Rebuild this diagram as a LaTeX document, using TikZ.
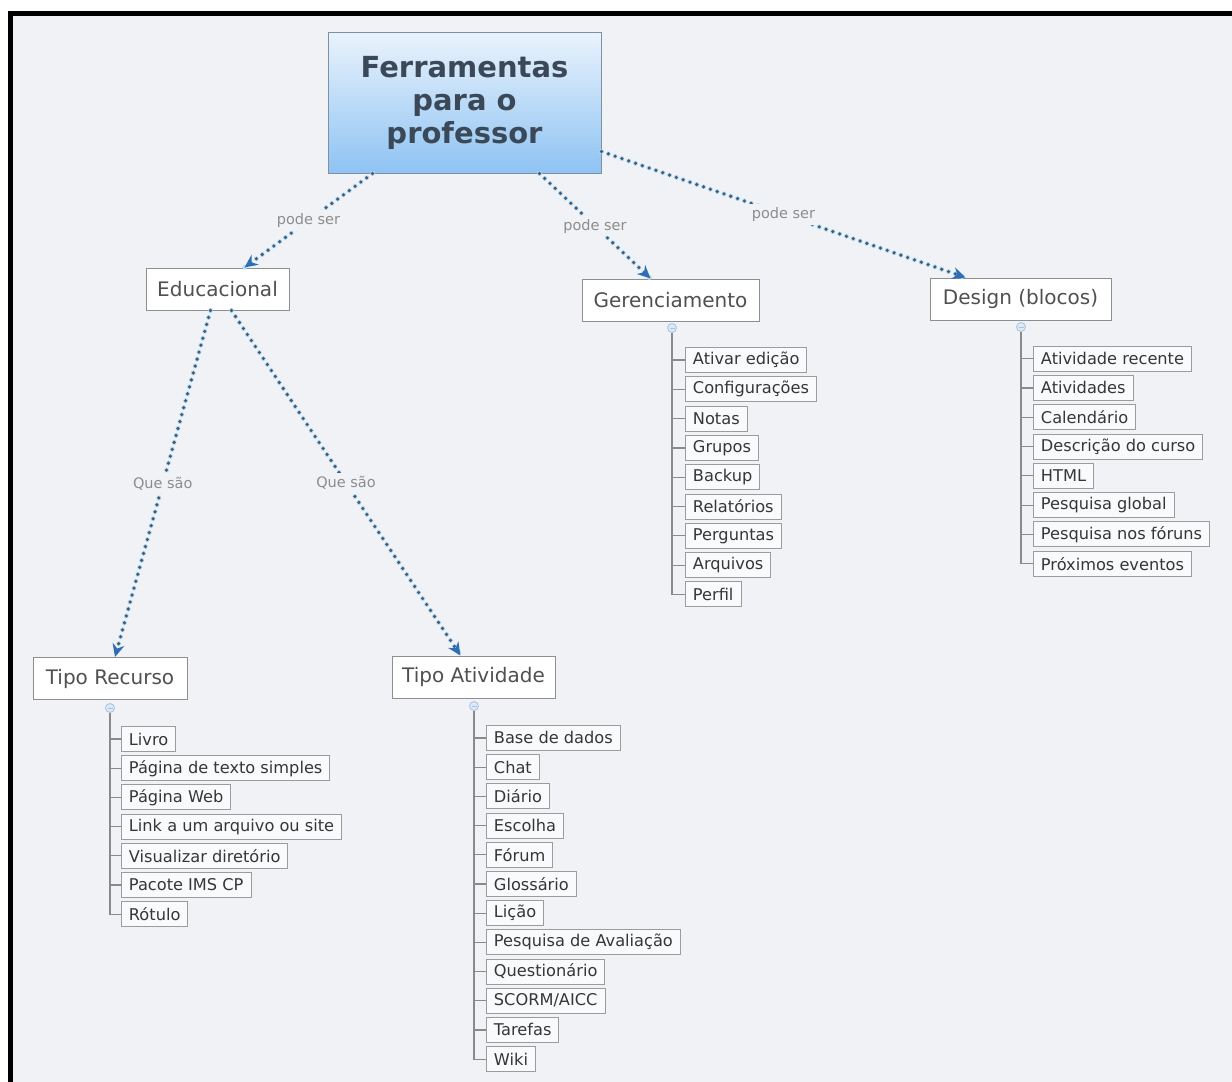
\documentclass[tikz,border=0pt]{standalone}
\usepackage{fontspec}
\setmainfont{DejaVu Sans}
\usetikzlibrary{arrows.meta}
\definecolor{bg}{HTML}{F1F2F6}
\definecolor{rootline}{HTML}{7D90A6}
\definecolor{roottop}{HTML}{EAF3FC}
\definecolor{rootbot}{HTML}{8EC3F3}
\definecolor{roottext}{HTML}{3B4858}
\definecolor{boxline}{HTML}{8E8E8E}
\definecolor{maintext}{HTML}{505050}
\definecolor{itemtext}{HTML}{363636}
\definecolor{itemline}{HTML}{9C9C9C}
\definecolor{treegray}{HTML}{8A8A8A}
\definecolor{dotdark}{HTML}{3E5D7A}
\definecolor{dothalo}{HTML}{B9DDF5}
\definecolor{tipblue}{HTML}{2E6EB6}
\definecolor{lblgray}{HTML}{8C8C8C}
\definecolor{knobfill}{HTML}{DCEAF8}
\definecolor{knobline}{HTML}{A9C3DE}
\begin{document}
\begin{tikzpicture}[x=1pt,y=-1pt,
  rootbox/.style={draw=rootline, line width=1pt, top color=roottop, bottom color=rootbot,
    minimum width=273pt, minimum height=141pt, inner sep=0pt, align=center,
    text=roottext, font=\fontsize{29}{33}\selectfont\bfseries},
  mainbox/.style={draw=boxline, line width=1pt, fill=white, minimum height=42pt,
    inner sep=0pt, text=maintext, font=\fontsize{20}{24}\selectfont},
  itembox/.style={draw=itemline, line width=0.9pt, fill=white!60!bg, minimum height=25pt,
    inner xsep=7.5pt, inner ysep=0pt, anchor=west, text=itemtext,
    font=\fontsize{16.2}{19}\selectfont},
  knob/.style={circle, draw=knobline, fill=knobfill, line width=0.8pt,
    minimum size=9pt, inner sep=0pt},
  treeline/.style={draw=treegray, line width=1.2pt},
  relation/.style={draw=dotdark, line width=3.6pt, line cap=round,
    dash pattern=on 0pt off 7.2pt,
    preaction={draw=dothalo, line width=5pt, line cap=round, dash pattern=on 0pt off 7.2pt, arrows=-},
    -{Stealth[length=13pt,width=12pt,color=tipblue]}},
  lbl/.style={fill=bg, text=lblgray, inner sep=3pt, font=\fontsize{14.5}{16}\selectfont}
]
\useasboundingbox (0,0) rectangle (1232,1082);
% frame and canvas
\fill[white] (0,0) rectangle (1232,1082);
\fill[black] (8,11) rectangle (1232,1082);
\fill[bg] (12.5,15.5) rectangle (1232,1082);

% central concept
\node[rootbox] (root) at (464.5,102.5) {Ferramentas\\para o\\professor};

% main concepts
\node[mainbox, minimum width=143pt] (edu) at (217.5,289) {Educacional};
\node[mainbox, minimum width=177pt] (ger) at (670.5,300) {Gerenciamento};
\node[mainbox, minimum width=181pt] (des) at (1020.5,299) {Design (blocos)};
\node[mainbox, minimum width=154pt] (rec) at (110,678.5) {Tipo Recurso};
\node[mainbox, minimum width=163pt] (ati) at (473.5,677) {Tipo Atividade};

% relations
\draw[relation] ([xshift=-92pt]root.south) -- node[lbl]{pode ser} ([xshift=27pt]edu.north);
\draw[relation] ([xshift=75pt]root.south) -- node[lbl]{pode ser} ([xshift=-20pt]ger.north);
\draw[relation] ([yshift=-49pt]root.east) -- node[lbl]{pode ser} ([xshift=-55pt]des.north);
\draw[relation] ([xshift=-7pt]edu.south) -- node[lbl]{Que são} ([xshift=5pt]rec.north);
\draw[relation] ([xshift=14pt]edu.south) -- node[lbl]{Que são} ([xshift=-13pt]ati.north);

% collapse knobs
\node[knob] (kger) at (672,328) {};
\node[knob] (kdes) at (1021,327) {};
\node[knob] (krec) at (110,708) {};
\node[knob] (kati) at (474,706) {};
\foreach \k in {kger,kdes,krec,kati}
  \draw[knobline, line width=0.8pt] ([xshift=-2.5pt]\k.center) -- ([xshift=2.5pt]\k.center);

% item lists
\foreach \t [count=\i] in {Ativar edição,Configurações,Notas,Grupos,Backup,Relatórios,Perguntas,Arquivos,Perfil}
  \node[itembox] (g\i) at (685,330.7+29.3*\i) {\t};
\foreach \t [count=\i] in {Atividade recente,Atividades,Calendário,Descrição do curso,HTML,Pesquisa global,Pesquisa nos fóruns,Próximos eventos}
  \node[itembox] (d\i) at (1033,329.3+29.3*\i) {\t};
\foreach \t [count=\i] in {Livro,Página de texto simples,Página Web,Link a um arquivo ou site,Visualizar diretório,Pacote IMS CP,Rótulo}
  \node[itembox] (r\i) at (121,709.8+29.2*\i) {\t};
\foreach \t [count=\i] in {Base de dados,Chat,Diário,Escolha,Fórum,Glossário,Lição,Pesquisa de Avaliação,Questionário,SCORM/AICC,Tarefas,Wiki}
  \node[itembox] (a\i) at (486,708.7+29.2*\i) {\t};

% tree connectors
\draw[treeline] (kger.south) |- (g9.west);
\foreach \i in {1,...,8} \draw[treeline] (kger.south |- g\i.west) -- (g\i.west);
\draw[treeline] (kdes.south) |- (d8.west);
\foreach \i in {1,...,7} \draw[treeline] (kdes.south |- d\i.west) -- (d\i.west);
\draw[treeline] (krec.south) |- (r7.west);
\foreach \i in {1,...,6} \draw[treeline] (krec.south |- r\i.west) -- (r\i.west);
\draw[treeline] (kati.south) |- (a12.west);
\foreach \i in {1,...,11} \draw[treeline] (kati.south |- a\i.west) -- (a\i.west);
\end{tikzpicture}
\end{document}
